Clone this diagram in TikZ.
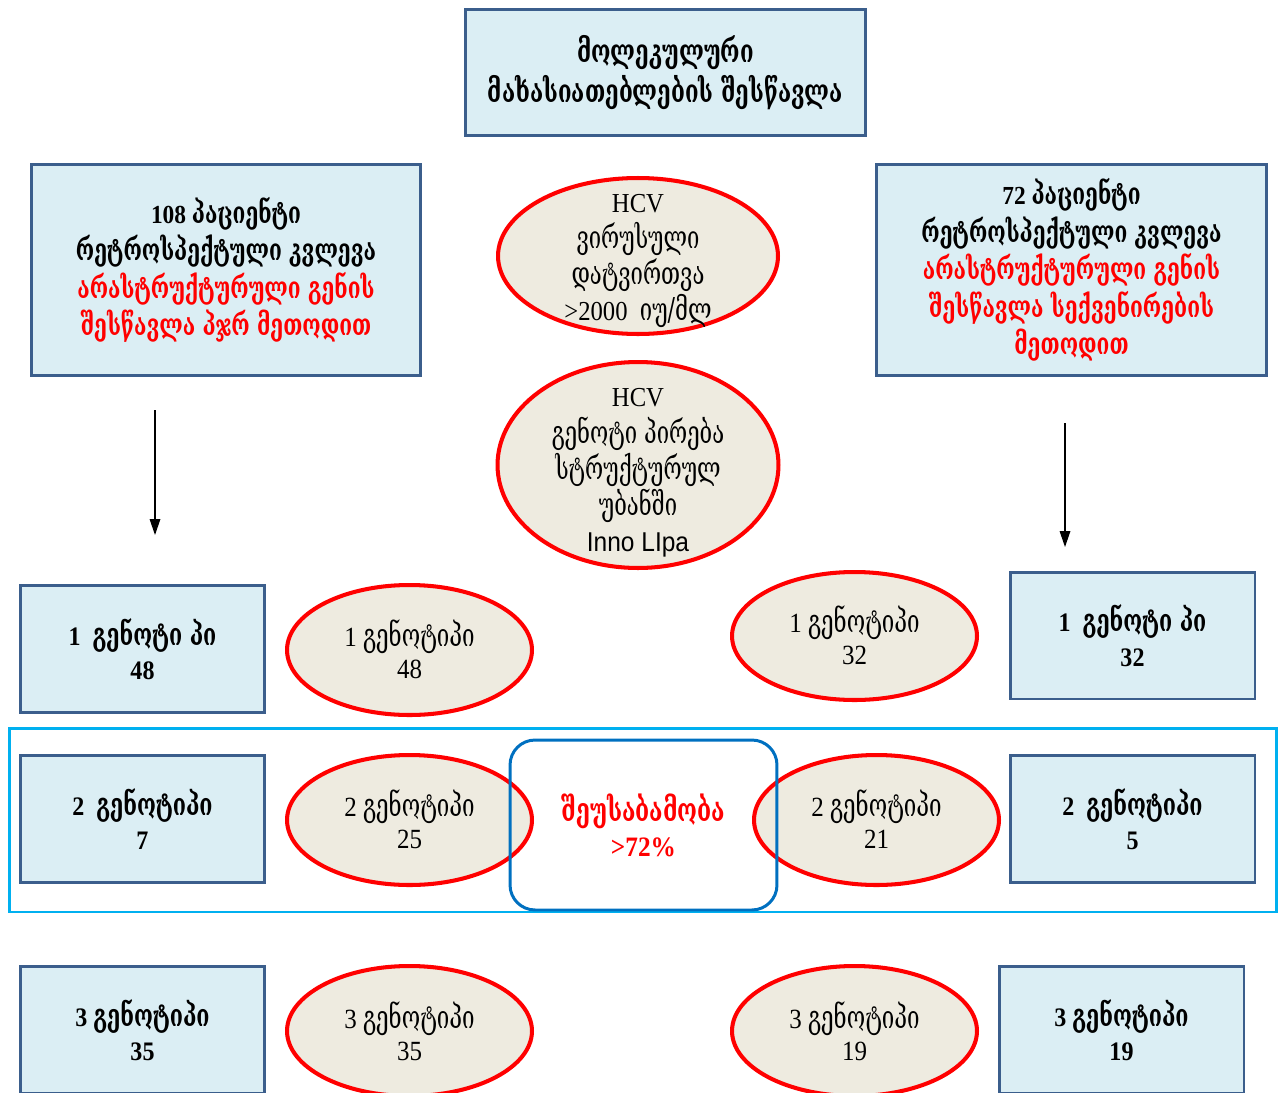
\documentclass[tikz,border=0pt]{standalone}
\usepackage{fontspec}
\setmainfont{Liberation Serif}[FakeStretch=0.9]
\newfontfamily\geo[FakeStretch=0.7, Scale=1.15]{DejaVu Serif}
\newfontfamily\arialf[FakeStretch=0.9]{Liberation Sans}
\usetikzlibrary{shapes.geometric,arrows.meta}
\definecolor{boxfill}{HTML}{DBEEF4}
\definecolor{boxline}{HTML}{3B5E8C}
\definecolor{ellfill}{HTML}{EEEBE0}
\definecolor{ellline}{HTML}{FF0000}
\definecolor{midline}{HTML}{0070C0}
\definecolor{bandline}{HTML}{00B0F0}
\tikzset{
  bbox/.style={draw=boxline, fill=boxfill, line width=1.7pt, inner sep=0pt, align=center,
    font=\fontsize{14.8}{21.3}\selectfont\bfseries},
  sbox/.style={bbox, minimum width=4.9cm, minimum height=2.54cm, font=\fontsize{15.2}{19.6}\selectfont\bfseries},
  rell/.style={ellipse, draw=ellline, fill=ellfill, line width=2.3pt, inner sep=0pt},
  ltxt/.style={align=center, inner sep=0pt, font=\fontsize{15.6}{20.6}\selectfont},
  stxt/.style={align=center, inner sep=0pt, font=\fontsize{15.8}{18.3}\selectfont},
  arr/.style={-{Triangle[length=9pt,width=6pt]}, line width=0.7pt, black}
}
\begin{document}
\begin{tikzpicture}[x=0.02cm,y=-0.02cm]
\useasboundingbox (0,0) rectangle (1284,1092);
\clip (0,0) rectangle (1284,1092);
% top
\node[bbox, minimum width=8.02cm, minimum height=2.54cm, font=\fontsize{15.7}{22.7}\selectfont\bfseries] (top) at (665.5,72.5)
  {\geo მოლეკულური\\ \geo მახასიათებლების შესწავლა};
% left / right study boxes
\node[bbox, minimum width=7.8cm, minimum height=4.24cm] (lstudy) at (226,270)
  {108 {\geo პაციენტი}\\ {\geo რეტროსპექტული კვლევა}\\
   \textcolor{red}{\geo არასტრუქტურული გენის}\\ \textcolor{red}{\geo შესწავლა პჯრ მეთოდით}};
\node[bbox, minimum width=7.82cm, minimum height=4.24cm] (rstudy) at (1071.5,270)
  {72 {\geo პაციენტი}\\ {\geo რეტროსპექტული კვლევა}\\
   \textcolor{red}{\geo არასტრუქტურული გენის}\\ \textcolor{red}{\geo შესწავლა სექვენირების}\\
   \textcolor{red}{\geo მეთოდით}};
% central ellipses
\node[rell, minimum width=5.6cm, minimum height=3.12cm] (load) at (638,256) {};
\node[ltxt] (loadt) at (638,261)
  {HCV\\ {\geo ვირუსული}\\ {\geo დატვირთვა}\\ >2000 \ {\geo იუ/მლ}};
\node[rell, minimum width=5.62cm, minimum height=4.12cm] (geno) at (638,465) {};
\node[ltxt] (genot) at (638,473)
  {HCV\\ {\geo გენოტი პირება}\\ {\geo სტრუქტურულ}\\ {\geo უბანში}\\ {\arialf\fontsize{15.5}{20.6}\selectfont Inno LIpa}};
% arrows
\coordinate (la1) at (155,410); \coordinate (la2) at (155,535);
\coordinate (ra1) at (1065,423); \coordinate (ra2) at (1065,547);
\draw[arr] (la1) -- (la2);
\draw[arr] (ra1) -- (ra2);
% row 1
\node[sbox] (l1) at (142.5,649) {1 \ {\geo გენოტი პი}\\ 48};
\node[rell, minimum width=4.9cm, minimum height=2.6cm] (le1) at (409.5,650) {};
\node[stxt] (le1t) at (409.5,649) {1 {\geo გენოტიპი}\\ 48};
\node[rell, minimum width=4.9cm, minimum height=2.56cm] (re1) at (854.5,636) {};
\node[stxt] (re1t) at (854.5,635) {1 {\geo გენოტიპი}\\ 32};
\node[sbox] (r1) at (1132.5,635.5) {1 \ {\geo გენოტი პი}\\ 32};
% row 2
\node[draw=bandline, line width=1.7pt, minimum width=25.36cm, minimum height=3.68cm, inner sep=0pt] (band) at (643,820) {};
\node[sbox] (l2) at (142.5,819) {2 \ {\geo გენოტიპი}\\ 7};
\node[rell, minimum width=4.9cm, minimum height=2.6cm] (le2) at (409.5,820) {};
\node[stxt] (le2t) at (409.5,819) {2 {\geo გენოტიპი}\\ 25};
\node[rell, minimum width=4.9cm, minimum height=2.6cm] (re2) at (876.5,820) {};
\node[stxt] (re2t) at (876.5,819) {2 {\geo გენოტიპი}\\ 21};
\node[sbox] (r2) at (1132.5,819) {2 \ {\geo გენოტიპი}\\ 5};
\node[draw=midline, line width=1.7pt, rounded corners=0.5cm, minimum width=5.34cm, minimum height=3.4cm,
  inner sep=0pt, align=center, text=red, font=\fontsize{16}{20}\selectfont\bfseries] (mis) at (643.5,825)
  {{\geo შეუსაბამობა}\\ >72\%};
% row 3
\node[sbox] (l3) at (142.5,1030) {3 {\geo გენოტიპი}\\ 35};
\node[rell, minimum width=4.9cm, minimum height=2.6cm] (le3) at (409.5,1031) {};
\node[stxt] (le3t) at (409.5,1031) {3 {\geo გენოტიპი}\\ 35};
\node[rell, minimum width=4.9cm, minimum height=2.6cm] (re3) at (854.5,1031) {};
\node[stxt] (re3t) at (854.5,1031) {3 {\geo გენოტიპი}\\ 19};
\node[sbox] (r3) at (1121.5,1030) {3 {\geo გენოტიპი}\\ 19};
\end{tikzpicture}
\end{document}
